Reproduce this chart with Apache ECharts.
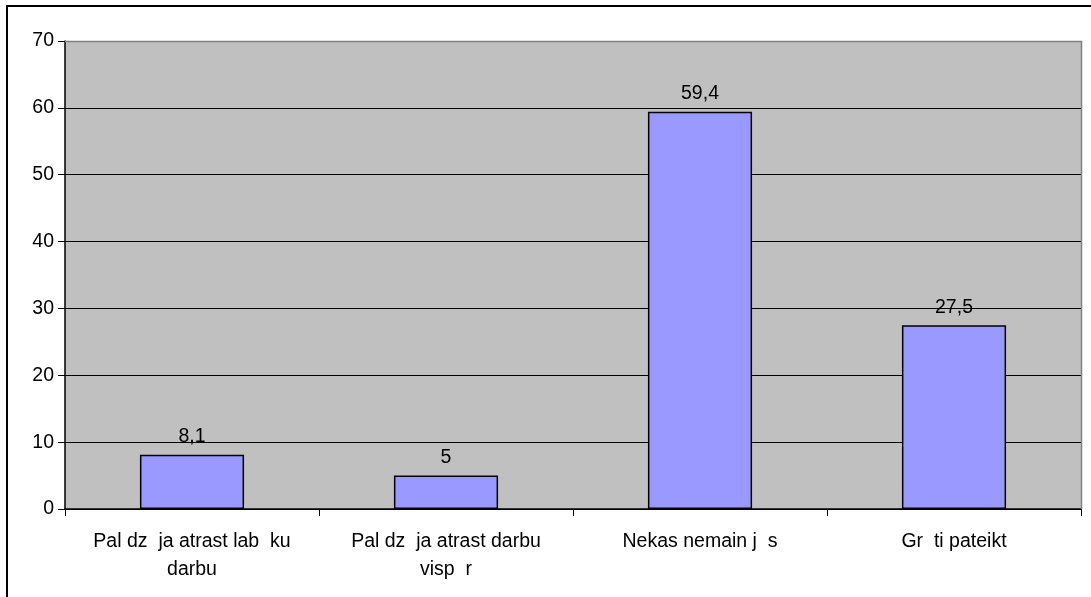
<!DOCTYPE html>
<html><head><meta charset="utf-8">
<script src="https://cdn.jsdelivr.net/npm/echarts@6/dist/echarts.min.js"></script>
<style>html,body{margin:0;padding:0;background:#fff}#c{width:1091px;height:597px}</style>
</head><body><div id="c"></div>
<script>
const categories = ["Pal dz  ja atrast lab  ku\ndarbu", "Pal dz  ja atrast darbu\nvisp  r", "Nekas nemain j  s", "Gr  ti pateikt"];
const values = [8.1, 5, 59.4, 27.5];
const yTicks = [0, 10, 20, 30, 40, 50, 60, 70];

const chart = echarts.init(document.getElementById('c'), null, {renderer: 'canvas'});
const font = 'Arial, "Liberation Sans", sans-serif';
chart.setOption({
  animation: false,
  backgroundColor: '#ffffff',
  graphic: [{
    type: 'rect', shape: {x: 7, y: 6, width: 1200, height: 700},
    style: {fill: 'none', stroke: '#000', lineWidth: 2}, z: -1
  }, {
    type: 'polyline', shape: {points: [[65, 41.5], [1081.5, 41.5], [1081.5, 509]]},
    style: {fill: 'none', stroke: '#808080', lineWidth: 1.5}, z: 10
  }],
  grid: {left: 65, right: 10, top: 41, bottom: 88, show: true, backgroundColor: '#c0c0c0', borderWidth: 0},
  xAxis: {
    type: 'category', data: categories,
    axisLine: {lineStyle: {color: '#000', width: 1.5}},
    axisTick: {show: true, alignWithLabel: false, length: 7, lineStyle: {color: '#000'}},
    axisLabel: {color: '#000', fontFamily: font, fontSize: 19.5, margin: 19, lineHeight: 28, interval: 0}
  },
  yAxis: {
    type: 'value', min: yTicks[0], max: yTicks[yTicks.length - 1], interval: 10,
    axisLine: {show: true, lineStyle: {color: '#000', width: 1.5}},
    axisTick: {show: true, length: 7, lineStyle: {color: '#000'}},
    splitLine: {show: true, lineStyle: {color: '#000', width: 1}},
    axisLabel: {color: '#000', fontFamily: font, fontSize: 19.5, margin: 11}
  },
  series: [{
    type: 'bar', data: values, barWidth: '41%',
    itemStyle: {color: '#9999ff', borderColor: '#000', borderWidth: 1.5},
    label: {show: true, position: 'top', distance: 8, color: '#000', fontFamily: font, fontSize: 19.5,
      formatter: p => String(p.value).replace('.', ',')}
  }]
});
</script></body></html>
